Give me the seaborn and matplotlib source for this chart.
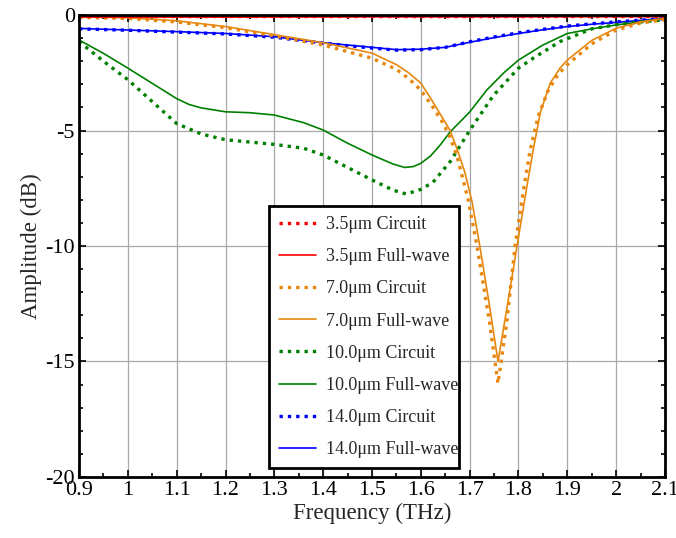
import numpy as np
import pandas as pd
import matplotlib
matplotlib.use("Agg")
import matplotlib.pyplot as plt
from matplotlib.ticker import MultipleLocator, FormatStrFormatter
import seaborn as sns

# ---- data: transmission amplitude (dB) vs frequency (THz) ----
f_35_circ = [0.90, 1.20, 1.50, 1.80, 2.10]
a_35_circ = [-0.05, -0.05, -0.05, -0.05, -0.05]
f_35_fw = [0.90, 1.20, 1.50, 1.80, 2.10]
a_35_fw = [-0.09, -0.09, -0.08, -0.08, -0.07]

f_70_fw = [0.90, 1.00, 1.10, 1.20, 1.30, 1.40, 1.50, 1.55, 1.575, 1.60, 1.62, 1.64, 1.66,
           1.675, 1.69, 1.705, 1.72, 1.74, 1.758, 1.777, 1.797, 1.815, 1.83, 1.845,
           1.865, 1.885, 1.90, 1.95, 2.00, 2.05, 2.10]
a_70_fw = [-0.08, -0.12, -0.25, -0.50, -0.85, -1.20, -1.65, -2.15, -2.50, -2.95, -3.60, -4.30, -5.00,
           -5.85, -6.80, -8.10, -9.90, -12.50, -15.00, -12.60, -10.00, -7.70, -5.85, -4.20,
           -2.95, -2.30, -1.95, -1.10, -0.57, -0.30, -0.15]
f_70_circ = [0.90, 1.00, 1.10, 1.20, 1.30, 1.40, 1.50, 1.55, 1.575, 1.60, 1.625, 1.646, 1.66,
             1.674, 1.697, 1.715, 1.74, 1.758, 1.776, 1.793, 1.81, 1.824, 1.84, 1.86,
             1.88, 1.90, 1.95, 2.00, 2.05, 2.10]
a_70_circ = [-0.10, -0.15, -0.30, -0.55, -0.90, -1.30, -1.87, -2.35, -2.75, -3.25, -4.00, -4.70, -5.30,
             -6.10, -8.00, -10.00, -13.20, -15.95, -13.30, -10.00, -7.60, -5.84, -4.40, -3.30,
             -2.60, -2.15, -1.25, -0.65, -0.35, -0.20]

f_100_fw = [0.90, 0.95, 1.00, 1.05, 1.10, 1.125, 1.15, 1.20, 1.25, 1.30, 1.36, 1.40, 1.45, 1.50,
            1.543, 1.567, 1.585, 1.60, 1.62, 1.64, 1.66, 1.70, 1.735, 1.77, 1.80, 1.85, 1.90, 1.95,
            2.00, 2.05, 2.10]
a_100_fw = [-1.08, -1.66, -2.30, -2.96, -3.62, -3.87, -4.02, -4.19, -4.23, -4.33, -4.66, -4.98, -5.55,
            -6.06, -6.45, -6.60, -6.56, -6.42, -6.10, -5.62, -5.06, -4.20, -3.25, -2.50, -1.95, -1.30, -0.80,
            -0.60, -0.43, -0.30, -0.15]
f_100_circ = [0.90, 0.95, 1.00, 1.05, 1.10, 1.15, 1.20, 1.25, 1.30, 1.36, 1.40, 1.45, 1.50,
              1.543, 1.57, 1.60, 1.625, 1.66, 1.70, 1.748, 1.80, 1.83, 1.885, 1.95, 2.00,
              2.05, 2.10]
a_100_circ = [-1.15, -2.00, -2.80, -3.75, -4.70, -5.15, -5.40, -5.50, -5.60, -5.77, -6.06, -6.60,
              -7.14, -7.58, -7.75, -7.55, -7.24, -6.35, -5.00, -3.50, -2.30, -1.87, -1.15, -0.60,
              -0.42, -0.30, -0.20]

f_140 = [0.90, 1.00, 1.10, 1.20, 1.30, 1.40, 1.45, 1.50, 1.55, 1.60, 1.65, 1.70, 1.75,
         1.80, 1.85, 1.90, 1.95, 2.00, 2.05, 2.10]
a_140_fw = [-0.58, -0.65, -0.72, -0.80, -0.94, -1.20, -1.30, -1.40, -1.50, -1.48, -1.40, -1.18,
            -0.98, -0.80, -0.64, -0.50, -0.40, -0.32, -0.23, -0.15]
a_140_circ = [-0.60, -0.66, -0.74, -0.82, -0.96, -1.22, -1.33, -1.43, -1.52, -1.50, -1.40, -1.16,
              -0.95, -0.77, -0.62, -0.48, -0.38, -0.30, -0.22, -0.15]

labels = ["3.5μm Circuit", "3.5μm Full-wave", "7.0μm Circuit", "7.0μm Full-wave",
          "10.0μm Circuit", "10.0μm Full-wave", "14.0μm Circuit", "14.0μm Full-wave"]
colors = ["#ff0000", "#ff0000", "#e8870e", "#e8870e",
          "#008000", "#008000", "#0000ff", "#0000ff"]
series = [(f_35_circ, a_35_circ), (f_35_fw, a_35_fw),
          (f_70_circ, a_70_circ), (f_70_fw, a_70_fw),
          (f_100_circ, a_100_circ), (f_100_fw, a_100_fw),
          (f_140, a_140_circ), (f_140, a_140_fw)]

# ---- styling ----
sns.set_style("ticks")
plt.rcParams["font.family"] = ["Liberation Serif", "DejaVu Serif"]
plt.rcParams["axes.unicode_minus"] = False

fig = plt.figure(figsize=(6.76, 5.38), dpi=100)
ax = fig.add_axes([0.1169, 0.1134, 0.8668, 0.8587])

dotted = (0, (1.0, 1.5))
draw_order = [6, 7, 4, 5, 2, 3, 0, 1]
handles = {}
for i in draw_order:
    fx, ay = series[i]
    df = pd.DataFrame({"f": fx, "a": ay})
    is_circ = "Circuit" in labels[i]
    sns.lineplot(data=df, x="f", y="a", ax=ax, color=colors[i],
                 linewidth=2.4 if is_circ else 1.2,
                 linestyle=dotted if is_circ else "-",
                 estimator=None, sort=False, label=labels[i])
    ln = ax.get_lines()[-1]
    ln.set_dash_capstyle("butt")
    handles[i] = ln

ax.set_xlim(0.9, 2.1)
ax.set_ylim(-20, 0)
ax.xaxis.set_major_locator(MultipleLocator(0.1))
ax.xaxis.set_minor_locator(MultipleLocator(0.05))
ax.yaxis.set_major_locator(MultipleLocator(5))
ax.yaxis.set_minor_locator(MultipleLocator(1))
ax.xaxis.set_major_formatter(FormatStrFormatter("%g"))
ax.yaxis.set_major_formatter(FormatStrFormatter("%g"))

ax.grid(True, which="major", color="#a8a8a8", linewidth=0.9)
ax.set_axisbelow(True)
for s in ax.spines.values():
    s.set_linewidth(2.0)
    s.set_color("black")
    s.set_visible(True)

ax.tick_params(which="both", direction="in", top=True, right=True,
               labelsize=16, colors="black", width=1.2)
ax.tick_params(which="major", length=5, pad=3)
ax.tick_params(which="minor", length=3)

ax.set_xlabel("Frequency (THz)", fontsize=16.5, labelpad=2)
ax.set_ylabel("Amplitude (dB)", fontsize=16.5, labelpad=2)

leg = ax.legend([handles[i] for i in range(8)], labels,
                loc="lower left", bbox_to_anchor=(0.324, 0.019, 0.325, 0.59),
                mode="expand", fontsize=13, frameon=True, fancybox=False,
                framealpha=1, edgecolor="black", handlelength=2.05,
                handletextpad=0.55, labelspacing=0.84, borderpad=0.55,
                borderaxespad=0)
leg.get_frame().set_linewidth(2.0)

fig.savefig("out.png", dpi=100)
